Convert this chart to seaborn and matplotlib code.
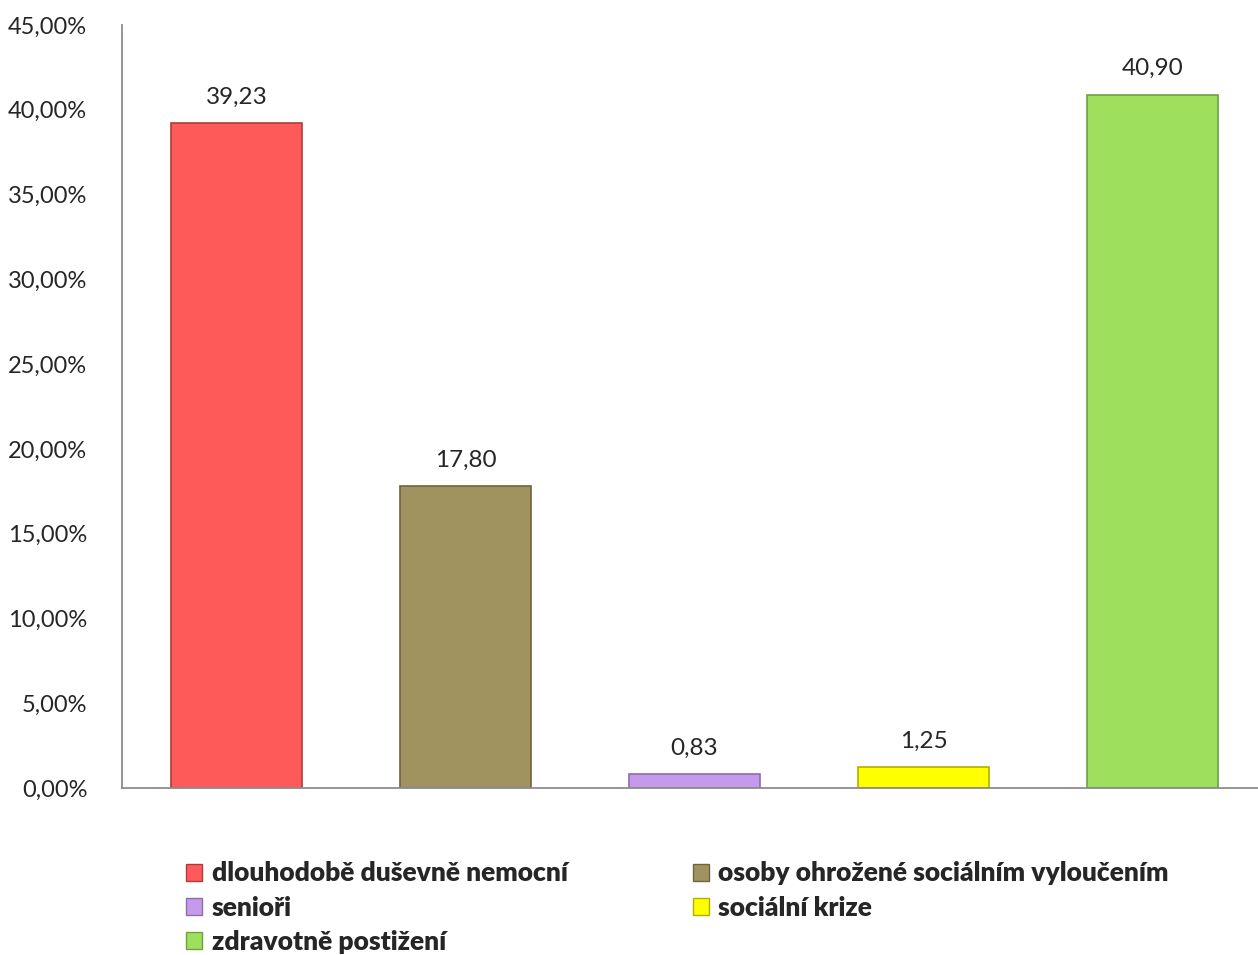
import pandas as pd
import matplotlib.pyplot as plt
import seaborn as sns
from matplotlib.patches import Patch

# Data
categories = ['dlouhodobě duševně nemocní', 'osoby ohrožené sociálním vyloučením',
              'senioři', 'sociální krize', 'zdravotně postižení']
values = [39.23, 17.80, 0.83, 1.25, 40.90]
colors = ['#FF5A5A', '#A09360', '#C49BEA', '#FFFF00', '#9EE05E']
edges = ['#B03A3A', '#6E6440', '#8E6CB0', '#B0B000', '#6EA040']
yticks = [0, 5, 10, 15, 20, 25, 30, 35, 40, 45]

df = pd.DataFrame({'kategorie': categories, 'hodnota': values})

sns.set_style('white')
plt.rcParams['font.family'] = ['Lato', 'DejaVu Sans']

fig = plt.figure(figsize=(12.58, 9.55), dpi=100)
ax = fig.add_axes([122 / 1258, 167 / 955, 1145 / 1258, 763 / 955])

sns.barplot(data=df, x='kategorie', y='hodnota', hue='kategorie',
            palette=colors, saturation=1, width=0.575, legend=False, ax=ax,
            linewidth=1.2)
for p, ec in zip(ax.patches, edges):
    p.set_edgecolor(ec)

for cont in ax.containers:
    ax.bar_label(cont, labels=[f'{v:.2f}'.replace('.', ',') for v in cont.datavalues],
                 padding=11, fontsize=17.5)

ax.set_xlim(-0.5, 4.5)
ax.set_ylim(0, 45)
ax.set_yticks(yticks)
ax.set_yticklabels([f'{t:.2f}'.replace('.', ',') + '%' for t in yticks], fontsize=17)
ax.tick_params(axis='y', length=0, pad=25)
ax.set_xticks([])
ax.set_xlabel('')
ax.set_ylabel('')
for s in ['top', 'right']:
    ax.spines[s].set_visible(False)
for s in ['left', 'bottom']:
    ax.spines[s].set_color('#8C8C8C')
    ax.spines[s].set_linewidth(1.3)

# legend in row-major order as in the original
handles = [Patch(facecolor=c, edgecolor=e, label=l) for c, e, l in zip(colors, edges, categories)]
order = [0, 2, 4, 1, 3]
leg = fig.legend([handles[i] for i in order], [categories[i] for i in order],
                 loc='upper left', bbox_to_anchor=(168 / 1258, 1 - 843 / 955),
                 ncol=2, frameon=False, handlelength=0.6, handleheight=0.6,
                 handletextpad=0.35, columnspacing=4.75, labelspacing=0.38,
                 borderpad=0.2, prop={'weight': 'heavy', 'size': 19})

fig.savefig('out.png', dpi=100)
